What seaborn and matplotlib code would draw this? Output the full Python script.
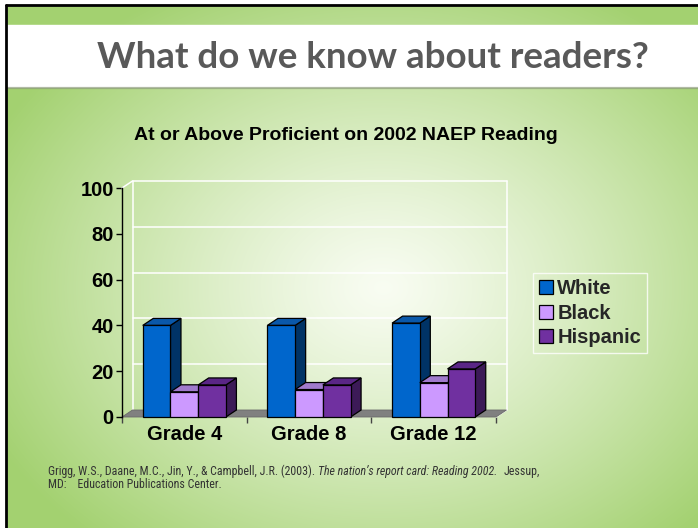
import numpy as np
import pandas as pd
import matplotlib
matplotlib.use("Agg")
import matplotlib.pyplot as plt
from matplotlib import font_manager
from matplotlib.patches import Polygon, Rectangle, Patch
import seaborn as sns

# ---------------- data ----------------
grades = ["Grade 4", "Grade 8", "Grade 12"]
white = [40, 40, 41]
black = [11, 12, 15]
hispanic = [14, 14, 21]
groups = ["White", "Black", "Hispanic"]
y_ticks = [0, 20, 40, 60, 80, 100]

front_colors = ["#0066CC", "#CC99FF", "#7030A0"]
top_colors = ["#0A58AA", "#A07ACC", "#5A2686"]
side_colors = ["#003366", "#7A5C99", "#3C1A57"]

df = pd.DataFrame({
    "grade": grades * 3,
    "group": [g for g in groups for _ in grades],
    "value": white + black + hispanic,
})

W, H = 698, 528
sns.set_theme(style="white")
plt.rcParams["font.family"] = ["Liberation Sans", "DejaVu Sans"]

installed = {f.name for f in font_manager.fontManager.ttflist}
if "Liberation Sans Narrow" in installed:
    cit_family, cit_size = ["Liberation Sans Narrow", "DejaVu Sans"], 8.6
elif "Roboto Condensed" in installed:
    cit_family, cit_size = ["Roboto Condensed", "DejaVu Sans"], 8.6
else:
    cit_family, cit_size = ["Liberation Sans", "DejaVu Sans"], 7.6

fig = plt.figure(figsize=(W / 100, H / 100), dpi=100)

# ---------------- slide background ----------------
bg = fig.add_axes([0, 0, 1, 1])
bg.set_xlim(0, W)
bg.set_ylim(H, 0)
bg.axis("off")

yy, xx = np.mgrid[0:H, 0:W]
r = np.sqrt(((xx - 380) / 440.0) ** 2 + ((yy - 285) / 340.0) ** 2)
r = np.clip(r, 0, 1) ** 1.2
c_in = np.array([0.975, 0.99, 0.95])
c_out = np.array([0.64, 0.82, 0.44])
img = c_in[None, None, :] * (1 - r[..., None]) + c_out[None, None, :] * r[..., None]
bg.imshow(img, extent=(6, W, H, 5), aspect="auto", zorder=0)

# white margin at top/left, black border lines
bg.add_patch(Rectangle((0, 0), W, 5, color="white", zorder=1))
bg.add_patch(Rectangle((0, 0), 6, H, color="white", zorder=1))
bg.plot([6, W], [5, 5], color="black", lw=2, zorder=3)
bg.plot([6, 6], [5, H], color="black", lw=2, zorder=3)

# title banner
bg.add_patch(Rectangle((7, 25), W, 62, color="white", zorder=2))
bg.plot([7, W], [88, 88], color="#7d8c6a", lw=1.6, alpha=0.6, zorder=2)
bg.text(373, 68, "What do we know about readers?", ha="center", va="baseline",
        fontsize=26.5, fontweight="bold", color="#595959",
        family=["Lato", "DejaVu Sans"], zorder=4)

# chart title
bg.text(346, 140, "At or Above Proficient on 2002 NAEP Reading", ha="center",
        va="baseline", fontsize=14, fontweight="bold", color="black", zorder=4)

# citation
cit_kw = dict(fontsize=cit_size, color="#333333", va="baseline",
              family=cit_family, zorder=4)
t1 = bg.text(48, 475, "Grigg, W.S., Daane, M.C., Jin, Y., & Campbell, J.R. (2003). ", **cit_kw)
fig.canvas.draw()
rend = fig.canvas.get_renderer()
x2 = t1.get_window_extent(rend).x1
t2 = bg.text(x2, 475, "The nation\u2019s report card: Reading 2002.", style="italic", **cit_kw)
x3 = t2.get_window_extent(rend).x1
bg.text(x3 + 6, 475, "Jessup,", **cit_kw)
bg.text(48, 488, "MD:    Education Publications Center.", **cit_kw)

# ---------------- chart ----------------
left, right, bottom, top = 122, 496, 417, 188
ax = fig.add_axes([left / W, (H - bottom) / H, (right - left) / W, (bottom - top) / H])
ax.patch.set_alpha(0)

sns.barplot(data=df, x="grade", y="value", hue="group", hue_order=groups,
            order=grades, palette=front_colors, width=0.667, saturation=1,
            edgecolor="black", linewidth=0.9, legend=False, ax=ax, zorder=10)

ax.set_xlim(-0.5, 2.5)
ax.set_ylim(0, 100)
ax.set_xlabel("")
ax.set_ylabel("")

# pixel -> data offsets for the 3D depth
px_x = (right - left) / 3.0
px_y = (bottom - top) / 100.0
dx = 10.5 / px_x
dy = 7.0 / px_y

# back wall gridlines and edges
for v in y_ticks[1:]:
    ax.plot([-0.5 + dx, 2.5 + dx], [v + dy, v + dy], color="white", lw=1.1,
            zorder=2, clip_on=False)
ax.plot([-0.5 + dx, -0.5 + dx], [dy, 100 + dy], color="white", lw=1.1, zorder=2, clip_on=False)
ax.plot([2.5 + dx, 2.5 + dx], [dy, 100 + dy], color="white", lw=1.1, zorder=2, clip_on=False)
ax.plot([-0.5, -0.5 + dx], [100, 100 + dy], color="white", lw=1.1, zorder=2, clip_on=False)
ax.plot([2.5, 2.5 + dx], [0, dy], color="white", lw=1.1, zorder=2, clip_on=False)

# floor
ax.add_patch(Polygon([(-0.5, 0), (2.5, 0), (2.5 + dx, dy), (-0.5 + dx, dy)],
                     closed=True, facecolor="#808080", edgecolor="#6a6a6a",
                     lw=0.6, zorder=3, clip_on=False))

# 3D faces for each bar
bars = [p for p in ax.patches if isinstance(p, Rectangle) and p.get_height() > 0]
bars = bars[-9:]
for i, p in enumerate(bars):
    k = i // 3
    x0, w, h = p.get_x(), p.get_width(), p.get_height()
    z = 10 + 3 * k
    p.set_zorder(z + 1)
    p.set_clip_on(False)
    side = Polygon([(x0 + w, 0), (x0 + w + dx, dy), (x0 + w + dx, h + dy), (x0 + w, h)],
                   closed=True, facecolor=side_colors[k], edgecolor="black",
                   lw=0.9, zorder=z, clip_on=False)
    topf = Polygon([(x0, h), (x0 + dx, h + dy), (x0 + w + dx, h + dy), (x0 + w, h)],
                   closed=True, facecolor=top_colors[k], edgecolor="black",
                   lw=0.9, zorder=z, clip_on=False)
    ax.add_patch(side)
    ax.add_patch(topf)

# axes styling
FS = 14.5
for s in ["top", "right", "bottom"]:
    ax.spines[s].set_visible(False)
ax.spines["left"].set_color("black")
ax.spines["left"].set_linewidth(1.0)
ax.spines["left"].set_zorder(20)
ax.set_yticks(y_ticks)
ax.set_yticklabels([str(v) for v in y_ticks], fontsize=FS, fontweight="bold")
ax.tick_params(axis="y", direction="out", length=4, width=1, color="black", pad=2,
               left=True, labelcolor="black")
ax.set_xticks(range(len(grades)))
ax.set_xticklabels(grades, fontsize=FS, fontweight="bold")
ax.tick_params(axis="x", which="major", length=0, pad=6, labelcolor="black")
ax.set_xticks([-0.5, 0.5, 1.5, 2.5], minor=True)
ax.tick_params(axis="x", which="minor", direction="out", length=4, width=1,
               color="#444444", bottom=True)
ax.grid(False)

# legend
handles = [Patch(facecolor=c, edgecolor="black", lw=0.9, label=g)
           for c, g in zip(front_colors, groups)]
leg = ax.legend(handles=handles, loc="upper left",
                bbox_to_anchor=(533 / W, 1 - 273 / H), bbox_transform=fig.transFigure,
                frameon=True, prop={"weight": "bold", "size": FS},
                handlelength=0.68, handleheight=0.68, handletextpad=0.22,
                labelspacing=0.28, borderpad=0.3, borderaxespad=0)
leg.get_frame().set_facecolor("none")
leg.get_frame().set_edgecolor("white")
leg.get_frame().set_linewidth(1.0)
leg.get_frame().set_boxstyle("square", pad=0)

fig.savefig("out.png", dpi=100)
